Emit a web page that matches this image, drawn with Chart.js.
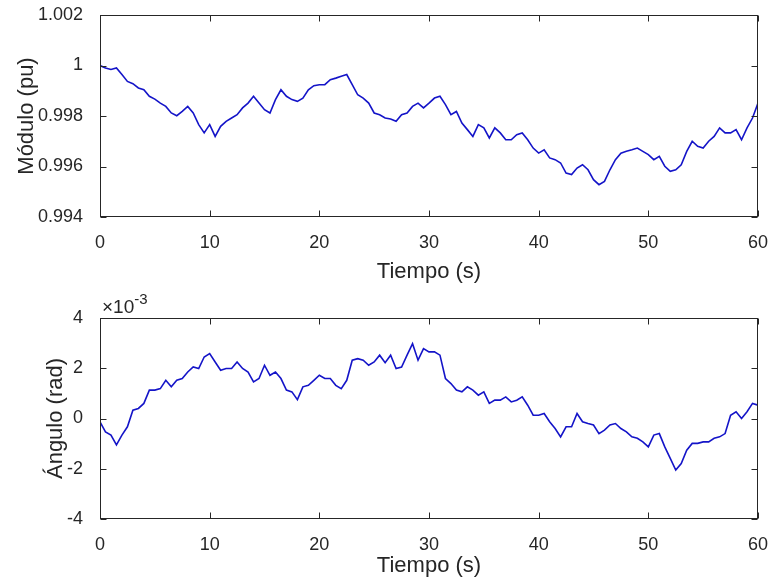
<!DOCTYPE html>
<html><head><meta charset="utf-8">
<script src="https://cdn.jsdelivr.net/npm/chart.js@4.4.1/dist/chart.umd.min.js"></script>
<style>
html,body{margin:0;padding:0;background:#fff;}
#wrap{position:relative;width:771px;height:588px;background:#fff;}
.c{position:absolute;left:0;width:771px;height:294px;}
</style></head><body>
<div id="wrap">
<div class="c" style="top:0"><canvas id="top" width="771" height="294"></canvas></div>
<div class="c" style="top:294px"><canvas id="bot" width="771" height="294"></canvas></div>
</div>
<script>
// Time axis (s)
const timeS = [0,0.5,1,1.5,2,2.5,3,3.5,4,4.5,5,5.5,6,6.5,7,7.5,8,8.5,9,9.5,
10,10.5,11,11.5,12,12.5,13,13.5,14,14.5,15,15.5,16,16.5,17,17.5,18,18.5,19,19.5,
20,20.5,21,21.5,22,22.5,23,23.5,24,24.5,25,25.5,26,26.5,27,27.5,28,28.5,29,29.5,
30,30.5,31,31.5,32,32.5,33,33.5,34,34.5,35,35.5,36,36.5,37,37.5,38,38.5,39,39.5,
40,40.5,41,41.5,42,42.5,43,43.5,44,44.5,45,45.5,46,46.5,47,47.5,48,48.5,49,49.5,
50,50.5,51,51.5,52,52.5,53,53.5,54,54.5,55,55.5,56,56.5,57,57.5,58,58.5,59,59.5,60];

// Módulo (pu)
const moduloPu = [1.0000,0.9999,0.99984,0.9999,0.99964,0.99937,0.99928,0.99911,0.99904,0.99878,
0.99867,0.99851,0.99838,0.99812,0.99801,0.99818,0.99838,0.99812,0.99766,0.99733,
0.99766,0.99719,0.99759,0.99779,0.99792,0.99805,0.99832,0.99851,0.99878,0.99851,
0.99825,0.99812,0.99865,0.99904,0.99878,0.99865,0.99858,0.99871,0.99904,0.99920,
0.99924,0.99924,0.99944,0.99950,0.99957,0.99964,0.99924,0.99884,0.99871,0.99851,
0.99812,0.99805,0.99792,0.99788,0.99779,0.99805,0.99812,0.99838,0.99851,0.99832,
0.99851,0.99871,0.99878,0.99845,0.99805,0.99818,0.99772,0.99746,0.99719,0.99766,
0.99753,0.99713,0.99753,0.99733,0.99706,0.99706,0.99726,0.99733,0.99706,0.99673,
0.99653,0.99666,0.99634,0.99627,0.99614,0.99574,0.99568,0.99594,0.99607,0.99587,
0.99548,0.99528,0.99541,0.99587,0.99627,0.99653,0.99660,0.99666,0.99673,0.99660,
0.99647,0.99627,0.99640,0.99601,0.99581,0.99587,0.99607,0.99660,0.99700,0.99680,
0.99673,0.99700,0.99719,0.99753,0.99733,0.99733,0.99746,0.99706,0.99753,0.99792,0.99851];

// Ángulo, in units of 1e-3 rad
const anguloE3 = [-0.13,-0.53,-0.66,-1.05,-0.66,-0.33,0.33,0.40,0.60,1.13,
1.13,1.19,1.52,1.26,1.52,1.59,1.85,2.05,1.99,2.45,
2.58,2.25,1.92,1.99,1.99,2.25,1.99,1.85,1.46,1.59,
2.12,1.72,1.85,1.59,1.13,1.06,0.75,1.26,1.32,1.52,
1.72,1.59,1.59,1.32,1.19,1.52,2.32,2.38,2.32,2.12,
2.25,2.52,2.22,2.52,1.99,2.05,2.52,2.98,2.32,2.78,
2.65,2.65,2.52,1.59,1.39,1.13,1.06,1.26,1.13,0.93,
1.06,0.60,0.73,0.73,0.86,0.66,0.73,0.86,0.53,0.13,
0.13,0.20,-0.13,-0.40,-0.73,-0.33,-0.33,0.20,-0.13,-0.20,
-0.26,-0.60,-0.46,-0.26,-0.20,-0.40,-0.53,-0.73,-0.79,-0.93,
-1.13,-0.66,-0.60,-1.13,-1.59,-2.05,-1.79,-1.26,-0.99,-0.99,
-0.93,-0.93,-0.79,-0.73,-0.60,0.13,0.27,0.00,0.27,0.60,0.53];

const xTicks = [0,10,20,30,40,50,60];
const moduloTicks = [0.994,0.996,0.998,1,1.002];
const anguloTicks = [-4,-2,0,2,4];

const FONT = '"Liberation Sans", Arial, Helvetica, sans-serif';
const TXT = '#262626';
const LINE = '#1414c8';

const boxPlugin = {
  id: 'mbox',
  afterDraw(chart, args, opts) {
    const {ctx, chartArea: a} = chart;
    const x = chart.scales.x, y = chart.scales.y;
    ctx.save();
    ctx.strokeStyle = TXT; ctx.lineWidth = 1;
    const L = Math.round(a.left) + 0.5, R = Math.round(a.right) - 0.5;
    const T = Math.round(a.top) + 0.5, B = Math.round(a.bottom) - 0.5;
    ctx.strokeRect(L, T, R - L, B - T);
    const tl = 6;
    ctx.beginPath();
    x.ticks.forEach(t => {
      const px = Math.round(x.getPixelForValue(t.value)) + 0.5;
      ctx.moveTo(px, B); ctx.lineTo(px, B - tl);
      ctx.moveTo(px, T); ctx.lineTo(px, T + tl);
    });
    y.ticks.forEach(t => {
      const py = Math.round(y.getPixelForValue(t.value)) + 0.5;
      ctx.moveTo(L, py); ctx.lineTo(L + tl, py);
      ctx.moveTo(R, py); ctx.lineTo(R - tl, py);
    });
    ctx.stroke();
    if (opts && opts.exponent) {
      ctx.fillStyle = TXT;
      ctx.textBaseline = 'alphabetic';
      ctx.textAlign = 'left';
      ctx.font = '19px ' + FONT;
      const base = '\u00d710';
      const bx = a.left + 2, by = a.top - 5;
      ctx.fillText(base, bx, by);
      const w = ctx.measureText(base).width;
      ctx.font = '15px ' + FONT;
      ctx.fillText(opts.exponent, bx + w, by - 9);
    }
    ctx.restore();
  }
};

function makeChart(id, values, yTicks, yMin, yMax, yTitle, titlePad, padTop, xHeight, fmt, exponent) {
  return new Chart(document.getElementById(id), {
    type: 'line',
    data: {
      datasets: [{
        data: timeS.map((t, i) => ({x: t, y: values[i]})),
        borderColor: LINE, borderWidth: 1.6, pointRadius: 0, tension: 0, fill: false
      }]
    },
    options: {
      responsive: false, animation: false, devicePixelRatio: 1,
      layout: {padding: {top: padTop, right: 13, left: 0, bottom: 0}},
      plugins: {legend: {display: false}, tooltip: {enabled: false}, mbox: {exponent: exponent}},
      scales: {
        x: {
          type: 'linear', min: 0, max: 60,
          afterBuildTicks: s => { s.ticks = xTicks.map(v => ({value: v})); },
          afterFit: s => { s.height = xHeight; s.paddingLeft = 0; s.paddingRight = 0; },
          grid: {display: false}, border: {display: false},
          ticks: {color: TXT, font: {family: FONT, size: 18}, padding: 7, maxRotation: 0, autoSkip: false},
          title: {display: true, text: 'Tiempo (s)', color: TXT, font: {family: FONT, size: 22}, padding: {top: 0, bottom: 9}}
        },
        y: {
          type: 'linear', min: yMin, max: yMax,
          afterBuildTicks: s => { s.ticks = yTicks.map(v => ({value: v})); },
          afterFit: s => { s.width = 100; s.paddingTop = 0; s.paddingBottom = 0; },
          grid: {display: false}, border: {display: false},
          ticks: {color: TXT, font: {family: FONT, size: 18}, padding: 9, autoSkip: false, callback: fmt},
          title: {display: true, text: yTitle, color: TXT, font: {family: FONT, size: 22}, padding: {top: titlePad, bottom: 0}}
        }
      }
    },
    plugins: [boxPlugin]
  });
}

makeChart('top', moduloPu, moduloTicks, 0.994, 1.002, 'Módulo (pu)', 14, 15, 77,
  v => String(Number(v.toFixed(3))), null);
makeChart('bot', anguloE3, anguloTicks, -4, 4, 'Ángulo (rad)', 43, 24, 69,
  v => String(v), '-3');
</script>
</body></html>
